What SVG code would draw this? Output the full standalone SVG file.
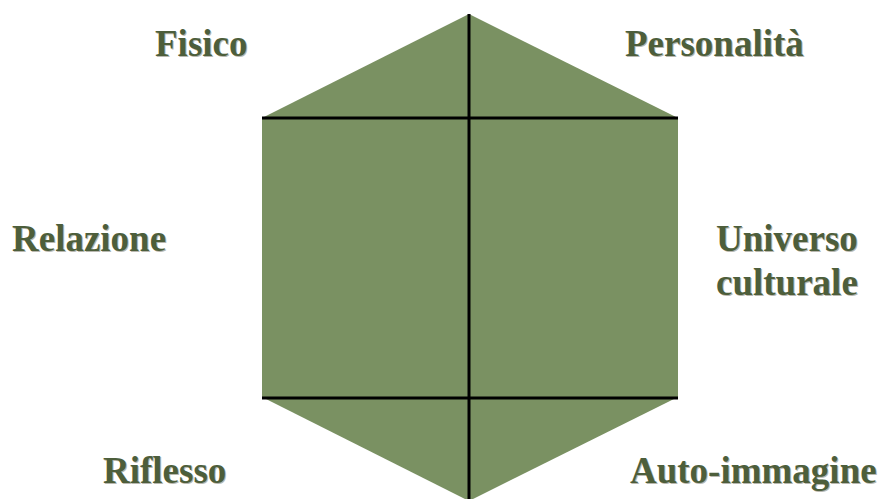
<svg xmlns="http://www.w3.org/2000/svg" width="882" height="499" viewBox="0 0 882 499">
<style>
.lbl{font-family:"Liberation Serif","Times New Roman",serif;font-weight:bold;font-size:37px;fill:#4d5e3b}
.sh{font-family:"Liberation Serif","Times New Roman",serif;font-weight:bold;font-size:37px;fill:#b8b8b0}
.ln{stroke:#000;stroke-width:3;fill:none}
</style>
<rect width="882" height="499" fill="#fff"/>
<g id="hexagon">
<polygon points="469,14 678,118 678,397 469,501 262,397 262,118" fill="#7a9162"/>
</g>
<g id="connectors">
<line class="ln" x1="469" y1="14" x2="469" y2="499"/>
<line class="ln" x1="262" y1="118" x2="678" y2="118"/>
<line class="ln" x1="262" y1="398" x2="678" y2="398"/>
</g>
<g id="fisico"><text class="sh" x="156" y="57">Fisico</text><text class="lbl" x="155" y="56">Fisico</text></g>
<g id="personalita"><text class="sh" x="626" y="57">Personalità</text><text class="lbl" x="625" y="56">Personalità</text></g>
<g id="relazione"><text class="sh" x="13" y="252">Relazione</text><text class="lbl" x="12" y="251">Relazione</text></g>
<g id="universo"><text class="sh" x="717" y="252">Universo</text><text class="lbl" x="716" y="251">Universo</text><text class="sh" x="717" y="296">culturale</text><text class="lbl" x="716" y="295">culturale</text></g>
<g id="riflesso"><text class="sh" x="104" y="484">Riflesso</text><text class="lbl" x="103" y="483">Riflesso</text></g>
<g id="autoimmagine"><text class="sh" x="631" y="484">Auto-immagine</text><text class="lbl" x="630" y="483">Auto-immagine</text></g>
</svg>
